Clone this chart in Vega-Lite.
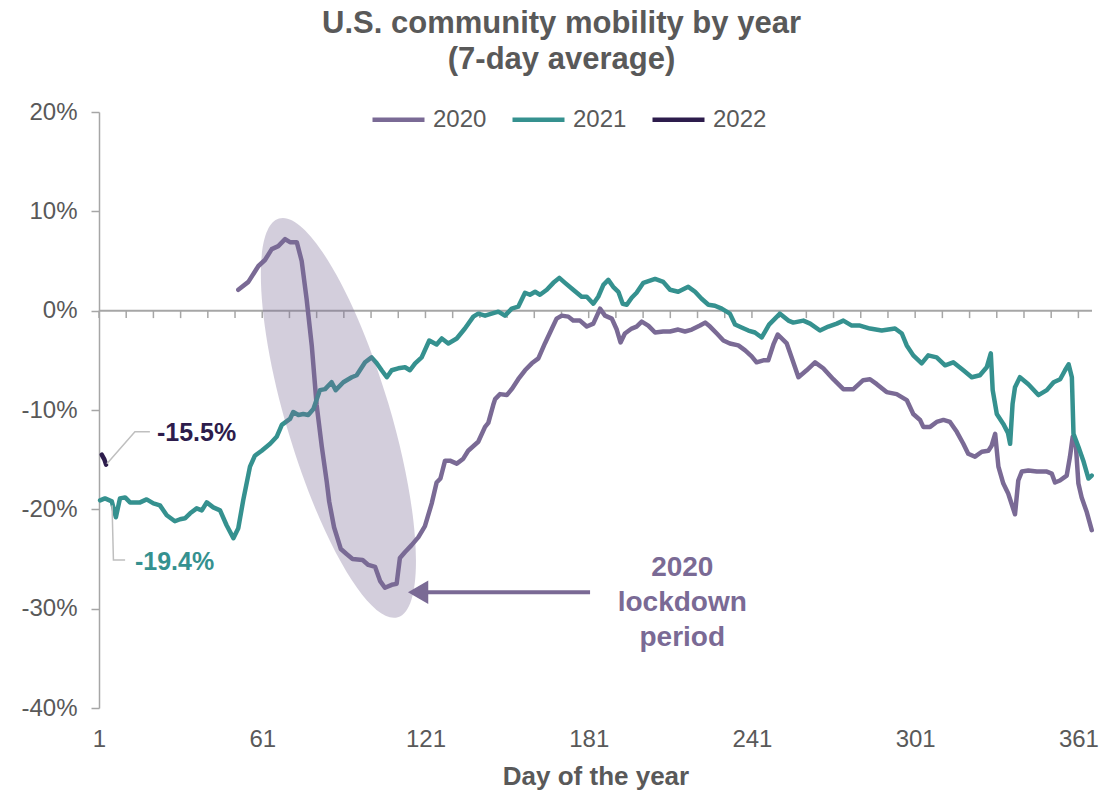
{
  "$schema": "https://vega.github.io/schema/vega-lite/v6.json",
  "width": 993,
  "height": 596,
  "autosize": {"type": "none"},
  "padding": {"left": 99, "top": 112, "right": 26, "bottom": 85},
  "background": "white",
  "config": {
    "font": "Liberation Sans",
    "view": {"stroke": null},
    "legend": {
      "orient": "none",
      "legendX": 271,
      "legendY": -21,
      "direction": "horizontal",
      "symbolType": "stroke",
      "symbolSize": 2704,
      "symbolStrokeWidth": 4.5,
      "labelFontSize": 24,
      "labelColor": "#595959",
      "labelFont": "Liberation Sans",
      "columnPadding": 16,
      "labelOffset": 6,
      "padding": 0
    }
  },
  "title": {
    "text": ["U.S. community mobility by year", "(7-day average)"],
    "fontSize": 31,
    "fontWeight": "bold",
    "color": "#595959",
    "anchor": "middle",
    "dx": -34,
    "offset": 15,
    "lineHeight": 36,
    "font": "Liberation Sans"
  },
  "datasets": {
    "mob": [
      {"year":"2020","day":52.2,"value":2.1},{"year":"2020","day":55.9,"value":2.9},{"year":"2020","day":59.6,"value":4.5},{"year":"2020","day":62.0,"value":5.1},{"year":"2020","day":64.5,"value":6.2},{"year":"2020","day":66.9,"value":6.5},{"year":"2020","day":69.4,"value":7.2},{"year":"2020","day":71.2,"value":6.9},{"year":"2020","day":73.7,"value":6.9},{"year":"2020","day":75.5,"value":5.0},{"year":"2020","day":77.3,"value":1.2},{"year":"2020","day":79.2,"value":-3.5},{"year":"2020","day":81.0,"value":-9.5},{"year":"2020","day":82.9,"value":-13.7},{"year":"2020","day":84.7,"value":-17.2},{"year":"2020","day":85.6,"value":-19.2},{"year":"2020","day":87.4,"value":-21.8},{"year":"2020","day":89.9,"value":-24.0},{"year":"2020","day":92.0,"value":-24.5},{"year":"2020","day":94.2,"value":-25.0},{"year":"2020","day":97.9,"value":-25.1},{"year":"2020","day":100.0,"value":-25.6},{"year":"2020","day":102.5,"value":-25.8},{"year":"2020","day":104.3,"value":-27.2},{"year":"2020","day":106.1,"value":-27.9},{"year":"2020","day":108.6,"value":-27.6},{"year":"2020","day":110.4,"value":-27.5},{"year":"2020","day":111.6,"value":-24.9},{"year":"2020","day":113.5,"value":-24.3},{"year":"2020","day":115.9,"value":-23.6},{"year":"2020","day":118.4,"value":-22.8},{"year":"2020","day":120.8,"value":-21.7},{"year":"2020","day":123.3,"value":-19.4},{"year":"2020","day":125.1,"value":-17.3},{"year":"2020","day":126.5,"value":-16.9},{"year":"2020","day":128.2,"value":-15.1},{"year":"2020","day":130.0,"value":-15.1},{"year":"2020","day":132.5,"value":-15.4},{"year":"2020","day":134.9,"value":-14.9},{"year":"2020","day":136.7,"value":-14.1},{"year":"2020","day":140.4,"value":-13.2},{"year":"2020","day":142.9,"value":-11.7},{"year":"2020","day":144.1,"value":-11.3},{"year":"2020","day":145.9,"value":-9.5},{"year":"2020","day":146.6,"value":-8.9},{"year":"2020","day":148.4,"value":-8.4},{"year":"2020","day":150.9,"value":-8.5},{"year":"2020","day":152.7,"value":-7.9},{"year":"2020","day":155.1,"value":-6.9},{"year":"2020","day":157.6,"value":-6.0},{"year":"2020","day":160.1,"value":-5.3},{"year":"2020","day":162.5,"value":-4.8},{"year":"2020","day":164.9,"value":-3.3},{"year":"2020","day":166.8,"value":-2.2},{"year":"2020","day":169.2,"value":-0.8},{"year":"2020","day":171.1,"value":-0.5},{"year":"2020","day":173.5,"value":-0.6},{"year":"2020","day":175.3,"value":-1.0},{"year":"2020","day":177.8,"value":-1.0},{"year":"2020","day":180.3,"value":-1.6},{"year":"2020","day":182.7,"value":-1.3},{"year":"2020","day":185.2,"value":0.2},{"year":"2020","day":187.0,"value":-0.5},{"year":"2020","day":189.5,"value":-0.8},{"year":"2020","day":191.3,"value":-1.9},{"year":"2020","day":192.7,"value":-3.2},{"year":"2020","day":194.3,"value":-2.3},{"year":"2020","day":196.8,"value":-1.8},{"year":"2020","day":198.6,"value":-1.6},{"year":"2020","day":200.5,"value":-1.1},{"year":"2020","day":202.9,"value":-1.5},{"year":"2020","day":205.4,"value":-2.2},{"year":"2020","day":208.4,"value":-2.1},{"year":"2020","day":210.9,"value":-2.1},{"year":"2020","day":213.9,"value":-1.9},{"year":"2020","day":216.4,"value":-2.1},{"year":"2020","day":218.9,"value":-1.9},{"year":"2020","day":221.9,"value":-1.5},{"year":"2020","day":223.8,"value":-1.2},{"year":"2020","day":225.6,"value":-1.6},{"year":"2020","day":228.1,"value":-2.3},{"year":"2020","day":230.5,"value":-3.0},{"year":"2020","day":232.9,"value":-3.3},{"year":"2020","day":236.0,"value":-3.5},{"year":"2020","day":238.5,"value":-4.0},{"year":"2020","day":240.9,"value":-4.6},{"year":"2020","day":242.7,"value":-5.2},{"year":"2020","day":245.2,"value":-5.0},{"year":"2020","day":247.0,"value":-5.0},{"year":"2020","day":248.9,"value":-3.4},{"year":"2020","day":250.5,"value":-2.4},{"year":"2020","day":253.8,"value":-3.3},{"year":"2020","day":256.2,"value":-5.2},{"year":"2020","day":258.1,"value":-6.7},{"year":"2020","day":261.1,"value":-6.0},{"year":"2020","day":264.2,"value":-5.2},{"year":"2020","day":267.2,"value":-5.8},{"year":"2020","day":270.9,"value":-6.9},{"year":"2020","day":274.6,"value":-7.9},{"year":"2020","day":278.3,"value":-7.9},{"year":"2020","day":281.9,"value":-7.0},{"year":"2020","day":284.4,"value":-6.9},{"year":"2020","day":286.9,"value":-7.4},{"year":"2020","day":290.5,"value":-8.2},{"year":"2020","day":294.2,"value":-8.4},{"year":"2020","day":297.9,"value":-9.0},{"year":"2020","day":300.3,"value":-10.4},{"year":"2020","day":302.8,"value":-11.0},{"year":"2020","day":304.0,"value":-11.7},{"year":"2020","day":306.5,"value":-11.7},{"year":"2020","day":308.9,"value":-11.2},{"year":"2020","day":311.4,"value":-11.0},{"year":"2020","day":313.8,"value":-11.2},{"year":"2020","day":316.3,"value":-12.2},{"year":"2020","day":318.7,"value":-13.4},{"year":"2020","day":320.5,"value":-14.4},{"year":"2020","day":323.0,"value":-14.7},{"year":"2020","day":325.5,"value":-14.2},{"year":"2020","day":327.9,"value":-14.1},{"year":"2020","day":329.1,"value":-13.6},{"year":"2020","day":330.4,"value":-12.4},{"year":"2020","day":331.6,"value":-15.7},{"year":"2020","day":333.4,"value":-17.4},{"year":"2020","day":335.2,"value":-18.4},{"year":"2020","day":337.7,"value":-20.5},{"year":"2020","day":338.9,"value":-17.1},{"year":"2020","day":340.2,"value":-16.2},{"year":"2020","day":342.6,"value":-16.1},{"year":"2020","day":345.7,"value":-16.2},{"year":"2020","day":349.4,"value":-16.2},{"year":"2020","day":351.2,"value":-16.4},{"year":"2020","day":352.4,"value":-17.3},{"year":"2020","day":354.2,"value":-17.1},{"year":"2020","day":356.7,"value":-16.6},{"year":"2020","day":357.9,"value":-14.7},{"year":"2020","day":358.9,"value":-12.7},{"year":"2020","day":360.1,"value":-13.7},{"year":"2020","day":361.0,"value":-17.4},{"year":"2020","day":362.2,"value":-18.8},{"year":"2020","day":364.1,"value":-20.3},{"year":"2020","day":365.9,"value":-22.1},
      {"year":"2021","day":1.4,"value":-19.1},{"year":"2021","day":3.2,"value":-18.9},{"year":"2021","day":5.7,"value":-19.2},{"year":"2021","day":7.2,"value":-20.8},{"year":"2021","day":8.7,"value":-18.9},{"year":"2021","day":10.6,"value":-18.8},{"year":"2021","day":12.4,"value":-19.3},{"year":"2021","day":16.1,"value":-19.3},{"year":"2021","day":18.5,"value":-19.0},{"year":"2021","day":21.0,"value":-19.4},{"year":"2021","day":23.4,"value":-19.6},{"year":"2021","day":25.9,"value":-20.6},{"year":"2021","day":28.9,"value":-21.2},{"year":"2021","day":30.8,"value":-21.0},{"year":"2021","day":32.6,"value":-20.9},{"year":"2021","day":34.5,"value":-20.4},{"year":"2021","day":36.9,"value":-19.9},{"year":"2021","day":38.8,"value":-20.1},{"year":"2021","day":40.6,"value":-19.3},{"year":"2021","day":43.0,"value":-19.8},{"year":"2021","day":45.5,"value":-20.1},{"year":"2021","day":47.9,"value":-21.6},{"year":"2021","day":50.4,"value":-22.9},{"year":"2021","day":52.2,"value":-21.9},{"year":"2021","day":54.0,"value":-19.1},{"year":"2021","day":56.5,"value":-15.7},{"year":"2021","day":58.3,"value":-14.6},{"year":"2021","day":60.8,"value":-14.1},{"year":"2021","day":63.9,"value":-13.4},{"year":"2021","day":66.3,"value":-12.7},{"year":"2021","day":68.2,"value":-11.5},{"year":"2021","day":71.2,"value":-10.9},{"year":"2021","day":72.4,"value":-10.2},{"year":"2021","day":74.3,"value":-10.5},{"year":"2021","day":76.1,"value":-10.4},{"year":"2021","day":77.9,"value":-10.5},{"year":"2021","day":79.8,"value":-9.9},{"year":"2021","day":82.2,"value":-8.0},{"year":"2021","day":84.1,"value":-7.9},{"year":"2021","day":86.5,"value":-7.2},{"year":"2021","day":88.0,"value":-8.0},{"year":"2021","day":90.8,"value":-7.2},{"year":"2021","day":93.9,"value":-6.7},{"year":"2021","day":95.7,"value":-6.5},{"year":"2021","day":98.8,"value":-5.2},{"year":"2021","day":101.2,"value":-4.7},{"year":"2021","day":103.1,"value":-5.3},{"year":"2021","day":104.9,"value":-6.0},{"year":"2021","day":106.8,"value":-6.7},{"year":"2021","day":108.6,"value":-6.0},{"year":"2021","day":111.0,"value":-5.8},{"year":"2021","day":113.5,"value":-5.7},{"year":"2021","day":115.3,"value":-6.0},{"year":"2021","day":117.2,"value":-5.3},{"year":"2021","day":119.6,"value":-4.7},{"year":"2021","day":122.4,"value":-3.0},{"year":"2021","day":125.1,"value":-3.4},{"year":"2021","day":127.0,"value":-2.8},{"year":"2021","day":129.4,"value":-3.3},{"year":"2021","day":132.5,"value":-2.8},{"year":"2021","day":135.5,"value":-1.8},{"year":"2021","day":138.6,"value":-0.6},{"year":"2021","day":140.4,"value":-0.3},{"year":"2021","day":142.9,"value":-0.5},{"year":"2021","day":145.3,"value":-0.3},{"year":"2021","day":147.8,"value":-0.1},{"year":"2021","day":150.2,"value":-0.5},{"year":"2021","day":152.7,"value":0.2},{"year":"2021","day":155.1,"value":0.4},{"year":"2021","day":157.6,"value":1.8},{"year":"2021","day":159.4,"value":1.6},{"year":"2021","day":161.3,"value":1.9},{"year":"2021","day":163.1,"value":1.6},{"year":"2021","day":165.6,"value":2.1},{"year":"2021","day":168.0,"value":2.8},{"year":"2021","day":170.2,"value":3.3},{"year":"2021","day":172.3,"value":2.8},{"year":"2021","day":175.3,"value":2.1},{"year":"2021","day":178.4,"value":1.4},{"year":"2021","day":180.3,"value":1.4},{"year":"2021","day":182.7,"value":0.7},{"year":"2021","day":184.5,"value":1.4},{"year":"2021","day":186.4,"value":2.6},{"year":"2021","day":188.2,"value":3.1},{"year":"2021","day":190.0,"value":2.4},{"year":"2021","day":191.9,"value":1.9},{"year":"2021","day":193.5,"value":0.7},{"year":"2021","day":195.0,"value":0.6},{"year":"2021","day":196.8,"value":1.3},{"year":"2021","day":198.6,"value":1.8},{"year":"2021","day":201.1,"value":2.8},{"year":"2021","day":205.4,"value":3.2},{"year":"2021","day":208.4,"value":2.9},{"year":"2021","day":210.9,"value":2.1},{"year":"2021","day":213.9,"value":1.9},{"year":"2021","day":217.6,"value":2.4},{"year":"2021","day":220.1,"value":1.9},{"year":"2021","day":222.5,"value":1.2},{"year":"2021","day":225.0,"value":0.6},{"year":"2021","day":227.4,"value":0.5},{"year":"2021","day":229.9,"value":0.2},{"year":"2021","day":232.9,"value":-0.3},{"year":"2021","day":234.8,"value":-1.4},{"year":"2021","day":237.2,"value":-1.7},{"year":"2021","day":239.7,"value":-2.0},{"year":"2021","day":242.1,"value":-2.2},{"year":"2021","day":244.6,"value":-2.7},{"year":"2021","day":247.3,"value":-1.4},{"year":"2021","day":251.3,"value":-0.3},{"year":"2021","day":254.4,"value":-1.0},{"year":"2021","day":256.2,"value":-1.2},{"year":"2021","day":259.9,"value":-1.0},{"year":"2021","day":262.4,"value":-1.3},{"year":"2021","day":266.0,"value":-2.0},{"year":"2021","day":269.1,"value":-1.6},{"year":"2021","day":272.2,"value":-1.3},{"year":"2021","day":274.6,"value":-1.0},{"year":"2021","day":277.7,"value":-1.5},{"year":"2021","day":280.7,"value":-1.5},{"year":"2021","day":284.4,"value":-1.8},{"year":"2021","day":288.7,"value":-2.0},{"year":"2021","day":293.6,"value":-1.8},{"year":"2021","day":296.1,"value":-2.3},{"year":"2021","day":297.9,"value":-3.5},{"year":"2021","day":300.3,"value":-4.5},{"year":"2021","day":303.4,"value":-5.3},{"year":"2021","day":305.8,"value":-4.5},{"year":"2021","day":308.9,"value":-4.7},{"year":"2021","day":312.0,"value":-5.5},{"year":"2021","day":315.0,"value":-5.2},{"year":"2021","day":318.7,"value":-6.0},{"year":"2021","day":321.8,"value":-6.7},{"year":"2021","day":324.8,"value":-6.5},{"year":"2021","day":327.3,"value":-5.7},{"year":"2021","day":328.8,"value":-4.3},{"year":"2021","day":329.5,"value":-8.0},{"year":"2021","day":331.0,"value":-10.4},{"year":"2021","day":333.4,"value":-11.4},{"year":"2021","day":335.1,"value":-12.3},{"year":"2021","day":335.9,"value":-13.4},{"year":"2021","day":336.8,"value":-9.4},{"year":"2021","day":337.7,"value":-7.7},{"year":"2021","day":339.5,"value":-6.7},{"year":"2021","day":342.6,"value":-7.4},{"year":"2021","day":346.3,"value":-8.5},{"year":"2021","day":349.4,"value":-8.0},{"year":"2021","day":351.9,"value":-7.2},{"year":"2021","day":354.3,"value":-6.9},{"year":"2021","day":356.1,"value":-6.0},{"year":"2021","day":357.4,"value":-5.4},{"year":"2021","day":358.6,"value":-6.7},{"year":"2021","day":359.2,"value":-12.4},{"year":"2021","day":361.0,"value":-13.7},{"year":"2021","day":362.8,"value":-15.1},{"year":"2021","day":364.7,"value":-16.9},{"year":"2021","day":365.9,"value":-16.6},
      {"year":"2022","day":2.0,"value":-14.5},{"year":"2022","day":3.0,"value":-15.0},{"year":"2022","day":3.6,"value":-15.5}
    ],
    "xticks": [
      {"day":1},{"day":11},{"day":21},{"day":31},{"day":41},{"day":51},{"day":61},{"day":71},{"day":81},{"day":91},{"day":101},{"day":111},{"day":121},{"day":131},{"day":141},{"day":151},{"day":161},{"day":171},{"day":181},{"day":191},{"day":201},{"day":211},{"day":221},{"day":231},{"day":241},{"day":251},{"day":261},{"day":271},{"day":281},{"day":291},{"day":301},{"day":311},{"day":321},{"day":331},{"day":341},{"day":351},{"day":361}
    ],
    "leaders": [
      {"g":"a","day":3.9,"value":-15.4},{"g":"a","day":14.2,"value":-12.2},{"g":"a","day":19.7,"value":-12.2},
      {"g":"b","day":5.8,"value":-19.6},{"g":"b","day":6.3,"value":-25.1},{"g":"b","day":10.6,"value":-25.1}
    ],
    "labels": [
      {"label":"-15.5%","day":22.3,"value":-12.3,"year":"2022"},
      {"label":"-19.4%","day":14.2,"value":-25.3,"year":"2021"}
    ]
  },
  "layer": [
    {
      "data": {"values": [{}]},
      "mark": {"type": "rule", "color": "#A6A6A6", "strokeWidth": 2},
      "encoding": {"y": {"datum": 0, "type": "quantitative", "scale": {"domain": [-40, 20], "nice": false}}}
    },
    {
      "data": {"name": "xticks"},
      "mark": {"type": "rule", "color": "#A6A6A6", "strokeWidth": 1.5},
      "encoding": {
        "x": {"field": "day", "type": "quantitative"},
        "y": {"datum": 0},
        "y2": {"datum": -0.75}
      }
    },
    {
      "data": {"name": "mob"},
      "mark": {"type": "line", "strokeWidth": 4.5, "strokeCap": "round", "strokeJoin": "round"},
      "encoding": {
        "x": {
          "field": "day", "type": "quantitative",
          "scale": {"domain": [1, 366], "nice": false, "zero": false},
          "axis": {
            "title": "Day of the year",
            "values": [1, 61, 121, 181, 241, 301, 361],
            "domain": false, "ticks": false, "grid": false,
            "labelFlush": false,
            "labelFontSize": 24, "labelColor": "#595959", "labelPadding": 19,
            "titleFontSize": 26, "titleFontWeight": "bold", "titleColor": "#595959", "titlePadding": 12
          }
        },
        "y": {
          "field": "value", "type": "quantitative",
          "scale": {"domain": [-40, 20], "nice": false},
          "axis": {
            "title": null,
            "values": [-40, -30, -20, -10, 0, 10, 20],
            "labelExpr": "datum.value + '%'",
            "grid": false,
            "domainColor": "#A6A6A6", "domainWidth": 1.5,
            "tickColor": "#A6A6A6", "tickWidth": 1.5, "tickSize": 8,
            "labelFontSize": 24, "labelColor": "#595959", "labelPadding": 14
          }
        },
        "color": {
          "field": "year", "type": "nominal",
          "scale": {"domain": ["2020", "2021", "2022"], "range": ["#7a6a95", "#35918f", "#2d1c4c"]},
          "legend": {"title": null}
        },
        "detail": {"field": "year"}
      }
    },
    {
      "data": {"values": [{"day": 89.0, "value": -10.8}]},
      "mark": {
        "type": "point",
        "shape": "M0,-1 A0.25,1 0 1,1 0,1 A0.25,1 0 1,1 0,-1 Z",
        "size": 173056,
        "angle": 343.4,
        "filled": true,
        "fill": "#7a6a95",
        "opacity": 0.33,
        "strokeWidth": 0
      },
      "encoding": {
        "x": {"field": "day", "type": "quantitative"},
        "y": {"field": "value", "type": "quantitative"}
      }
    },
    {
      "data": {"values": [{"from": 120.0, "to": 181.5, "value": -28.35}]},
      "mark": {"type": "rule", "color": "#7a6a95", "strokeWidth": 4},
      "encoding": {
        "x": {"field": "from", "type": "quantitative"},
        "x2": {"field": "to"},
        "y": {"field": "value", "type": "quantitative"}
      }
    },
    {
      "data": {"values": [{"day": 118.3, "value": -28.35}]},
      "mark": {"type": "point", "shape": "triangle-left", "size": 550, "filled": true, "fill": "#7a6a95", "opacity": 1, "strokeWidth": 0},
      "encoding": {
        "x": {"field": "day", "type": "quantitative"},
        "y": {"field": "value", "type": "quantitative"}
      }
    },
    {
      "data": {"values": [{"day": 215.4, "value": -25.95, "label": "2020\nlockdown\nperiod"}]},
      "mark": {"type": "text", "lineBreak": "\n", "lineHeight": 35, "fontSize": 28, "fontWeight": "bold", "color": "#7a6a95", "align": "center", "baseline": "middle"},
      "encoding": {
        "x": {"field": "day", "type": "quantitative"},
        "y": {"field": "value", "type": "quantitative"},
        "text": {"field": "label"}
      }
    },
    {
      "data": {"name": "leaders"},
      "mark": {"type": "line", "color": "#BFBFBF", "strokeWidth": 1.5},
      "encoding": {
        "x": {"field": "day", "type": "quantitative"},
        "y": {"field": "value", "type": "quantitative"},
        "detail": {"field": "g"}
      }
    },
    {
      "data": {"name": "labels"},
      "mark": {"type": "text", "fontSize": 25, "fontWeight": "bold", "align": "left", "baseline": "middle"},
      "encoding": {
        "x": {"field": "day", "type": "quantitative"},
        "y": {"field": "value", "type": "quantitative"},
        "text": {"field": "label"},
        "color": {"field": "year", "type": "nominal", "legend": null}
      }
    }
  ]
}
